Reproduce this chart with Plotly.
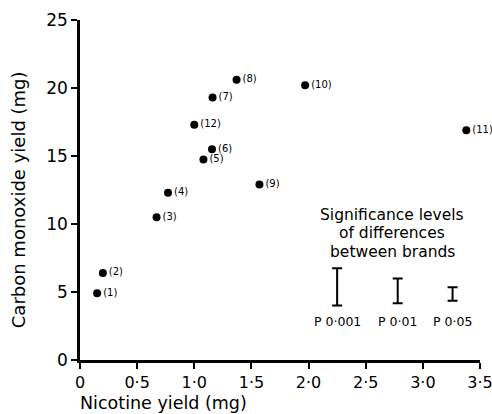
import plotly.graph_objects as go

brands = ["(1)", "(2)", "(3)", "(4)", "(5)", "(6)", "(7)", "(8)", "(9)", "(10)", "(11)", "(12)"]
nicotine = [0.15, 0.20, 0.67, 0.77, 1.08, 1.155, 1.16, 1.37, 1.57, 1.97, 3.38, 1.00]
carbon_monoxide = [4.9, 6.4, 10.5, 12.3, 14.75, 15.5, 19.3, 20.6, 12.9, 20.2, 16.9, 17.3]

sig_labels = ["P 0·001", "P 0·01", "P 0·05"]
sig_x = [2.25, 2.78, 3.26]
sig_low = [4.0, 4.17, 4.36]
sig_high = [6.74, 6.0, 5.35]

note_lines = ["Significance levels", "of differences", "between brands"]

x_tickvals = [0, 0.5, 1.0, 1.5, 2.0, 2.5, 3.0, 3.5]
x_ticktext = ["0", "0·5", "1·0", "1·5", "2·0", "2·5", "3·0", "3·5"]
y_tickvals = [0, 5, 10, 15, 20, 25]
y_ticktext = ["0", "5", "10", "15", "20", "25"]

FONT = "DejaVu Sans"

fig = go.Figure()

fig.add_trace(go.Scatter(
    x=nicotine, y=carbon_monoxide, mode="markers+text",
    text=brands, textposition="middle right",
    textfont=dict(family=FONT, size=10, color="black"),
    marker=dict(size=8, color="black"),
    cliponaxis=False, showlegend=False, hoverinfo="x+y+text"))

sig_mid = [(a + b) / 2 for a, b in zip(sig_low, sig_high)]
sig_half = [(b - a) / 2 for a, b in zip(sig_low, sig_high)]
fig.add_trace(go.Scatter(
    x=sig_x, y=sig_mid, mode="markers",
    marker=dict(size=1, color="rgba(0,0,0,0)"),
    error_y=dict(type="data", array=sig_half, visible=True,
                 color="black", thickness=2, width=5),
    showlegend=False, hoverinfo="skip"))

for lbl, xv in zip(sig_labels, sig_x):
    fig.add_annotation(x=xv, y=2.8, text=lbl, showarrow=False,
                       font=dict(family=FONT, size=12.5, color="black"))

for line, yv in zip(note_lines, [10.66, 9.34, 7.94]):
    fig.add_annotation(x=2.73, y=yv, text=line, showarrow=False, yanchor="middle",
                       font=dict(family=FONT, size=15.5, color="black"))

fig.add_annotation(xref="paper", yref="paper", x=-0.005, y=-0.126, xanchor="left", yanchor="middle",
                   text="Nicotine yield (mg)", showarrow=False,
                   font=dict(family=FONT, size=17.5, color="black"))
fig.add_annotation(xref="paper", yref="paper", x=-0.155, y=0.47, textangle=-90,
                   xanchor="center", yanchor="middle",
                   text="Carbon monoxide yield (mg)", showarrow=False,
                   font=dict(family=FONT, size=18, color="black"))

axis_common = dict(showgrid=False, zeroline=False, showline=True, linecolor="black",
                   linewidth=2.5, ticks="outside", tickcolor="black", tickwidth=2,
                   ticklen=6, automargin=False, ticklabeloverflow="allow")

fig.update_xaxes(range=[0, 3.5], tickvals=x_tickvals, ticktext=x_ticktext,
                 tickfont=dict(family=FONT, size=16, color="black"), **axis_common)
fig.update_yaxes(range=[0, 25], tickvals=y_tickvals, ticktext=y_ticktext,
                 tickfont=dict(family=FONT, size=17, color="black"), **axis_common)

fig.update_layout(width=492, height=414, margin=dict(l=80, r=12, t=20, b=54),
                  plot_bgcolor="white", paper_bgcolor="white")

fig.write_html("out.html", config={"displayModeBar": False},
               post_script="document.body.style.margin='0';document.body.style.overflow='hidden';")
